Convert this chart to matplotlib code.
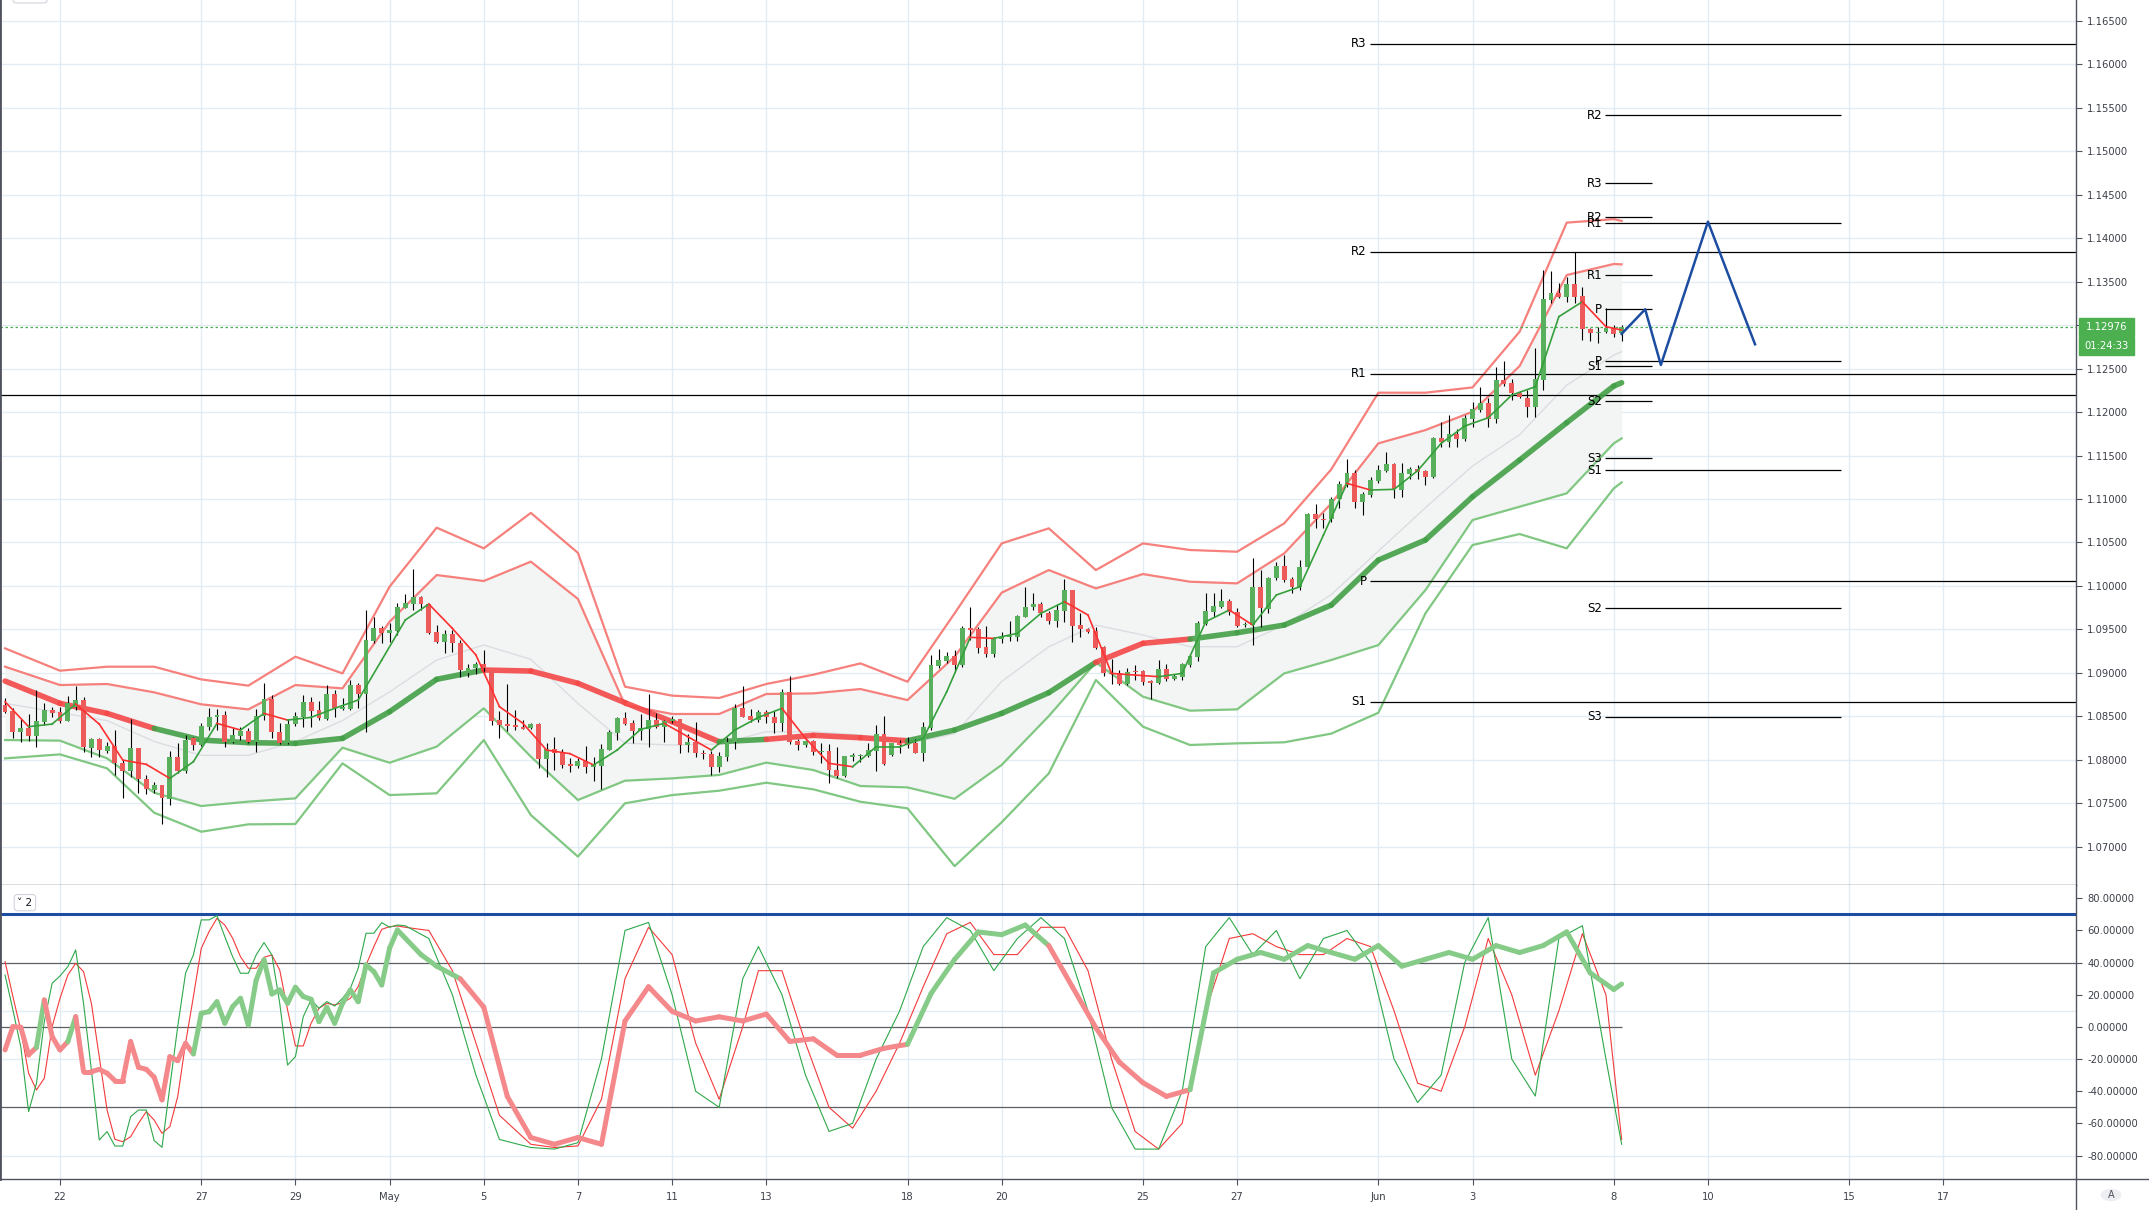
import matplotlib
matplotlib.use("Agg")
import matplotlib.pyplot as plt
from matplotlib.lines import Line2D
from matplotlib.patches import Circle, Rectangle, FancyBboxPatch

plt.rcParams['font.family'] = ['DejaVu Sans']

# 4h candles: x = candle number, 0 = 22 Apr 00:00, 6 candles per day
first_idx = -7
c_open = [1.08629, 1.08564, 1.08322, 1.08364, 1.08272, 1.08437, 1.08571, 1.08545, 1.08449, 1.08610,
          1.08687, 1.08138, 1.08238, 1.08100, 1.08157, 1.07965, 1.07873, 1.08134, 1.07774, 1.07651,
          1.07705, 1.07547, 1.08027, 1.07873, 1.08245, 1.08169, 1.08380, 1.08487, 1.08514, 1.08199,
          1.08276, 1.08334, 1.08199, 1.08502, 1.08698, 1.08322, 1.08196, 1.08410, 1.08495, 1.08664,
          1.08571, 1.08468, 1.08756, 1.08583, 1.08583, 1.08859, 1.08752, 1.09369, 1.09511, 1.09454,
          1.09484, 1.09749, 1.09791, 1.09868, 1.09788, 1.09465, 1.09358, 1.09446, 1.09339, 1.08994,
          1.09051, 1.09101, 1.09059, 1.08457, 1.08414, 1.08395, 1.08376, 1.08361, 1.08411, 1.08012,
          1.08123, 1.08073, 1.07950, 1.07927, 1.07985, 1.07920, 1.07927, 1.08111, 1.08311, 1.08483,
          1.08426, 1.08330, 1.08353, 1.08457, 1.08372, 1.08445, 1.08464, 1.08173, 1.08203, 1.08081,
          1.08065, 1.07912, 1.08035, 1.08200, 1.08598, 1.08503, 1.08457, 1.08549, 1.08495, 1.08418,
          1.08783, 1.08215, 1.08173, 1.08215, 1.08084, 1.08104, 1.07881, 1.07812, 1.08034, 1.08042,
          1.08046, 1.08103, 1.08295, 1.08053, 1.08195, 1.08195, 1.08195, 1.08080, 1.08360, 1.09082,
          1.09139, 1.09193, 1.09089, 1.09519, 1.09500, 1.09296, 1.09216, 1.09385, 1.09408, 1.09408,
          1.09645, 1.09753, 1.09791, 1.09691, 1.09599, 1.09714, 1.09952, 1.09549, 1.09500, 1.09480,
          1.09293, 1.09001, 1.08993, 1.08871, 1.09020, 1.09016, 1.08909, 1.08886, 1.09039, 1.08924,
          1.08955, 1.09089, 1.09185, 1.09561, 1.09699, 1.09760, 1.09826, 1.09703, 1.09549, 1.09549,
          1.09990, 1.09733, 1.10086, 1.10228, 1.10075, 1.09983, 1.10213, 1.10823, 1.10773, 1.10765,
          1.10996, 1.11160, 1.11295, 1.10969, 1.11045, 1.11210, 1.11325, 1.11398, 1.11103, 1.11287,
          1.11341, 1.11325, 1.11256, 1.11697, 1.11651, 1.11747, 1.11686, 1.11920, 1.12024, 1.12108,
          1.11916, 1.12369, 1.12330, 1.12215, 1.12166, 1.12062, 1.12369, 1.13289, 1.13366, 1.13328,
          1.13474, 1.13335, 1.12952, 1.12906, 1.12917, 1.12963, 1.12906]
c_high = [1.08706, 1.08591, 1.08464, 1.08522, 1.08802, 1.08648, 1.08610, 1.08602, 1.08733, 1.08848,
          1.08717, 1.08245, 1.08245, 1.08207, 1.08341, 1.07996, 1.08468, 1.08134, 1.07823, 1.07739,
          1.07705, 1.08103, 1.08196, 1.08284, 1.08265, 1.08426, 1.08598, 1.08579, 1.08564, 1.08380,
          1.08372, 1.08360, 1.08583, 1.08886, 1.08744, 1.08418, 1.08464, 1.08552, 1.08744, 1.08725,
          1.08675, 1.08859, 1.08802, 1.08706, 1.08917, 1.08878, 1.09722, 1.09638, 1.09542, 1.09569,
          1.09799, 1.09906, 1.10190, 1.09884, 1.09788, 1.09550, 1.09492, 1.09492, 1.09377, 1.09101,
          1.09128, 1.09262, 1.09059, 1.08564, 1.08871, 1.08572, 1.08457, 1.08426, 1.08426, 1.08188,
          1.08265, 1.08119, 1.08015, 1.08015, 1.08157, 1.08027, 1.08180, 1.08341, 1.08495, 1.08552,
          1.08457, 1.08526, 1.08756, 1.08541, 1.08457, 1.08503, 1.08464, 1.08295, 1.08437, 1.08111,
          1.08104, 1.08092, 1.08265, 1.08637, 1.08848, 1.08583, 1.08572, 1.08572, 1.08564, 1.08813,
          1.08963, 1.08234, 1.08226, 1.08226, 1.08188, 1.08180, 1.08149, 1.08042, 1.08073, 1.08065,
          1.08195, 1.08399, 1.08502, 1.08195, 1.08226, 1.08257, 1.08234, 1.08437, 1.09204, 1.09269,
          1.09243, 1.09262, 1.09538, 1.09753, 1.09523, 1.09538, 1.09408, 1.09469, 1.09596, 1.09665,
          1.09983, 1.09914, 1.09818, 1.09714, 1.09791, 1.10075, 1.09952, 1.09684, 1.09511, 1.09523,
          1.09308, 1.09154, 1.09032, 1.09051, 1.09089, 1.09032, 1.08917, 1.09147, 1.09101, 1.08986,
          1.09108, 1.09216, 1.09599, 1.09914, 1.09914, 1.09960, 1.09845, 1.09741, 1.09588, 1.10317,
          1.10182, 1.10106, 1.10278, 1.10355, 1.10106, 1.10297, 1.10834, 1.10942, 1.10834, 1.11026,
          1.11210, 1.11456, 1.11333, 1.11084, 1.11256, 1.11391, 1.11544, 1.11410, 1.11410, 1.11364,
          1.11391, 1.11333, 1.11717, 1.11889, 1.11966, 1.11801, 1.11966, 1.12119, 1.12284, 1.12158,
          1.12522, 1.12587, 1.12380, 1.12246, 1.12254, 1.12733, 1.13635, 1.13627, 1.13481, 1.13558,
          1.13846, 1.13443, 1.12963, 1.12983, 1.13194, 1.13002, 1.13002]
c_low = [1.08533, 1.08245, 1.08207, 1.08219, 1.08150, 1.08399, 1.08495, 1.08426, 1.08449, 1.08571,
         1.08092, 1.08027, 1.08034, 1.08073, 1.07823, 1.07555, 1.07804, 1.07612, 1.07605, 1.07612,
         1.07260, 1.07478, 1.07843, 1.07850, 1.08111, 1.08157, 1.08341, 1.08341, 1.08150, 1.08188,
         1.08226, 1.08188, 1.08084, 1.08456, 1.08245, 1.08180, 1.08180, 1.08387, 1.08380, 1.08380,
         1.08456, 1.08456, 1.08495, 1.08571, 1.08571, 1.08591, 1.08322, 1.09346, 1.09346, 1.09358,
         1.09435, 1.09741, 1.09722, 1.09722, 1.09446, 1.09347, 1.09231, 1.09243, 1.08948, 1.08948,
         1.08986, 1.08986, 1.08399, 1.08253, 1.08330, 1.08341, 1.08349, 1.08349, 1.07904, 1.07804,
         1.07881, 1.07900, 1.07862, 1.07900, 1.07850, 1.07758, 1.07659, 1.08111, 1.08226, 1.08399,
         1.08188, 1.08226, 1.08142, 1.08361, 1.08207, 1.08426, 1.08073, 1.08092, 1.08027, 1.08004,
         1.07824, 1.07862, 1.07989, 1.08119, 1.08487, 1.08437, 1.08437, 1.08426, 1.08303, 1.08334,
         1.08180, 1.08111, 1.08150, 1.08050, 1.07958, 1.07735, 1.07793, 1.07796, 1.07988, 1.07977,
         1.08034, 1.07873, 1.07938, 1.08042, 1.08073, 1.08130, 1.08073, 1.07988, 1.08341, 1.09051,
         1.09116, 1.09012, 1.09070, 1.09377, 1.09231, 1.09177, 1.09185, 1.09346, 1.09369, 1.09369,
         1.09638, 1.09722, 1.09645, 1.09561, 1.09523, 1.09588, 1.09358, 1.09415, 1.09461, 1.09269,
         1.08963, 1.08867, 1.08859, 1.08859, 1.08917, 1.08859, 1.08694, 1.08871, 1.08909, 1.08917,
         1.08917, 1.09070, 1.09139, 1.09549, 1.09645, 1.09741, 1.09665, 1.09523, 1.09530, 1.09319,
         1.09530, 1.09684, 1.10067, 1.10048, 1.09914, 1.09952, 1.10201, 1.10662, 1.10662, 1.10738,
         1.10892, 1.11141, 1.10892, 1.10815, 1.11026, 1.11180, 1.11314, 1.11007, 1.11026, 1.11226,
         1.11226, 1.11160, 1.11237, 1.11602, 1.11602, 1.11602, 1.11671, 1.11832, 1.12004, 1.11832,
         1.11878, 1.12300, 1.12139, 1.12158, 1.11947, 1.11947, 1.12254, 1.13259, 1.13309, 1.13270,
         1.13259, 1.12829, 1.12821, 1.12791, 1.12906, 1.12860, 1.12821]
c_close = [1.08552, 1.08322, 1.08364, 1.08272, 1.08445, 1.08571, 1.08541, 1.08445, 1.08648, 1.08687,
           1.08150, 1.08238, 1.08111, 1.08157, 1.07958, 1.07873, 1.08130, 1.07774, 1.07659, 1.07705,
           1.07555, 1.08027, 1.07873, 1.08226, 1.08169, 1.08387, 1.08495, 1.08514, 1.08207, 1.08284,
           1.08334, 1.08199, 1.08502, 1.08698, 1.08314, 1.08196, 1.08410, 1.08502, 1.08664, 1.08564,
           1.08476, 1.08756, 1.08591, 1.08602, 1.08859, 1.08752, 1.09377, 1.09511, 1.09454, 1.09492,
           1.09753, 1.09799, 1.09868, 1.09788, 1.09462, 1.09358, 1.09446, 1.09339, 1.09032, 1.09051,
           1.09101, 1.09051, 1.08449, 1.08399, 1.08391, 1.08372, 1.08357, 1.08411, 1.08012, 1.08123,
           1.08073, 1.07943, 1.07927, 1.07985, 1.07920, 1.07950, 1.08119, 1.08315, 1.08483, 1.08411,
           1.08330, 1.08361, 1.08457, 1.08372, 1.08449, 1.08464, 1.08173, 1.08203, 1.08073, 1.08061,
           1.07912, 1.08042, 1.08207, 1.08598, 1.08495, 1.08457, 1.08549, 1.08495, 1.08418, 1.08783,
           1.08203, 1.08173, 1.08215, 1.08084, 1.08104, 1.07881, 1.07812, 1.08042, 1.08053, 1.08053,
           1.08111, 1.08295, 1.07950, 1.08188, 1.08169, 1.08169, 1.08080, 1.08372, 1.09089, 1.09147,
           1.09193, 1.09089, 1.09519, 1.09496, 1.09289, 1.09216, 1.09396, 1.09415, 1.09423, 1.09653,
           1.09753, 1.09791, 1.09684, 1.09599, 1.09722, 1.09952, 1.09538, 1.09500, 1.09469, 1.09289,
           1.08993, 1.08982, 1.08871, 1.09012, 1.09005, 1.08897, 1.08886, 1.09039, 1.08924, 1.08963,
           1.09101, 1.09197, 1.09569, 1.09711, 1.09768, 1.09826, 1.09703, 1.09538, 1.09565, 1.09990,
           1.09741, 1.10086, 1.10228, 1.10067, 1.09983, 1.10213, 1.10823, 1.10765, 1.10758, 1.10996,
           1.11172, 1.11295, 1.10969, 1.11057, 1.11218, 1.11333, 1.11398, 1.11111, 1.11295, 1.11341,
           1.11314, 1.11256, 1.11705, 1.11651, 1.11747, 1.11686, 1.11928, 1.12031, 1.12108, 1.11916,
           1.12369, 1.12323, 1.12215, 1.12177, 1.12062, 1.12376, 1.13301, 1.13366, 1.13328, 1.13474,
           1.13328, 1.12952, 1.12906, 1.12921, 1.12971, 1.12898, 1.12976]

# bands / moving averages read once a day
band_idx = [-7] + list(range(0, 199, 6)) + [199]
band_uo = [1.09281, 1.09024, 1.09070, 1.09070, 1.08924, 1.08852, 1.09185, 1.08993, 1.09991, 1.10670,
           1.10432, 1.10840, 1.10380, 1.08840, 1.08737, 1.08710, 1.08871, 1.08978, 1.09108, 1.08897,
           1.09684, 1.10489, 1.10662, 1.10182, 1.10489, 1.10413, 1.10393, 1.10719, 1.11341, 1.12223,
           1.12223, 1.12284, 1.12925, 1.14180, 1.14220, 1.14200]
band_ui = [1.09070, 1.08859, 1.08871, 1.08775, 1.08637, 1.08579, 1.08859, 1.08821, 1.09588, 1.10125,
           1.10056, 1.10279, 1.09850, 1.08629, 1.08526, 1.08526, 1.08756, 1.08763, 1.08813, 1.08686,
           1.09185, 1.09922, 1.10182, 1.09971, 1.10136, 1.10048, 1.10029, 1.10374, 1.10949, 1.11640,
           1.11793, 1.12004, 1.12530, 1.13577, 1.13704, 1.13700]
band_mid = [1.08648, 1.08541, 1.08450, 1.08210, 1.08050, 1.08050, 1.08210, 1.08450, 1.08780, 1.09147,
            1.09320, 1.09155, 1.08648, 1.08190, 1.08169, 1.08180, 1.08322, 1.08320, 1.08284, 1.08180,
            1.08300, 1.08900, 1.09300, 1.09549, 1.09434, 1.09300, 1.09300, 1.09550, 1.09900, 1.10400,
            1.10900, 1.11380, 1.11740, 1.12310, 1.12656, 1.12695]
band_li = [1.08226, 1.08219, 1.08015, 1.07620, 1.07467, 1.07517, 1.07555, 1.08138, 1.07965, 1.08150,
           1.08591, 1.08035, 1.07536, 1.07758, 1.07785, 1.07824, 1.07966, 1.07881, 1.07697, 1.07681,
           1.07550, 1.07940, 1.08502, 1.09120, 1.08725, 1.08564, 1.08579, 1.08993, 1.09147, 1.09319,
           1.09952, 1.10758, 1.10911, 1.11065, 1.11640, 1.11697]
band_lo = [1.08015, 1.08061, 1.07900, 1.07390, 1.07171, 1.07256, 1.07260, 1.07958, 1.07593, 1.07613,
           1.08226, 1.07363, 1.06885, 1.07498, 1.07593, 1.07643, 1.07735, 1.07659, 1.07516, 1.07440,
           1.06775, 1.07280, 1.07842, 1.08917, 1.08380, 1.08169, 1.08188, 1.08200, 1.08300, 1.08540,
           1.09684, 1.10470, 1.10597, 1.10432, 1.11122, 1.11191]
trend_line = [1.08905, 1.08648, 1.08533, 1.08360, 1.08226, 1.08196, 1.08188, 1.08245, 1.08552, 1.08925,
              1.09032, 1.09020, 1.08879, 1.08656, 1.08437, 1.08207, 1.08234, 1.08280, 1.08253, 1.08218,
              1.08341, 1.08533, 1.08771, 1.09120, 1.09339, 1.09388, 1.09461, 1.09549, 1.09779, 1.10297,
              1.10528, 1.11026, 1.11448, 1.11878, 1.12300, 1.12338]
trend_up = [0, 0, 0, 0, 1, 1, 1, 1, 1, 1, 1, 0, 0, 0, 0, 0, 1, 0, 0, 0,
            1, 1, 1, 1, 0, 0, 1, 1, 1, 1, 1, 1, 1, 1, 1, 1]

fast_idx = list(range(-7, 198, 3)) + [199]
fast_line = [1.08667, 1.08380, 1.08410, 1.08640, 1.08410, 1.07996, 1.07946, 1.07785, 1.07977, 1.08418,
             1.08341, 1.08533, 1.08456, 1.08487, 1.08591, 1.08687, 1.09147, 1.09607, 1.09791, 1.09511,
             1.09205, 1.08610, 1.08418, 1.08111, 1.08069, 1.07939, 1.08111, 1.08349, 1.08418, 1.08265,
             1.08111, 1.08341, 1.08487, 1.08591, 1.08246, 1.07958, 1.07919, 1.08149, 1.08149, 1.08245,
             1.08782, 1.09408, 1.09396, 1.09454, 1.09684, 1.09818, 1.09665, 1.08993, 1.08974, 1.08955,
             1.08993, 1.09588, 1.09722, 1.09549, 1.09895, 1.09990, 1.10585, 1.11180, 1.11103, 1.11111,
             1.11325, 1.11640, 1.11839, 1.11935, 1.12196, 1.12292, 1.13098, 1.13270, 1.12983, 1.12944]

# pivot levels
piv_a_names = ['R3', 'R2', 'R1', 'P', 'S1']
piv_a = [1.16236, 1.13846, 1.12442, 1.10052, 1.08667]
piv_b_names = ['R3', 'R2', 'R1', 'P', 'S1', 'S2', 'S3']
piv_b = [1.14632, 1.14241, 1.13574, 1.13182, 1.12527, 1.12124, 1.11468]
piv_c_names = ['R2', 'R1', 'P', 'S1', 'S2', 'S3']
piv_c = [1.15417, 1.14172, 1.12584, 1.11330, 1.09740, 1.08494]
level_line = 1.12202
last_price = 1.12976
countdown = '01:24:33'

proj_idx = [199, 202, 204, 210, 216]
proj_price = [1.12900, 1.13183, 1.12542, 1.14191, 1.12780]

# oscillator
osc_thick_idx = list(range(-7, 44)) + [46, 48, 51, 54, 57, 60, 63, 66, 69, 72, 75, 78, 81, 84, 87, 90, 93,
                                       96, 99, 102, 105, 108, 111, 114, 117, 120, 123, 126, 129, 132, 135,
                                       138, 141, 144, 147, 150, 153, 156, 159, 162, 165, 168, 171, 174, 177,
                                       180, 183, 186, 189, 192, 195, 198, 199]
osc_thick = [-14.3, 0.2, -0.2, -17.4, -12.7, 16.8, -6.0, -14.3, -9.1, 6.4, -27.8, -27.8, -26.4, -28.8,
             -33.4, -33.4, -9.1, -25.1, -26.4, -31.3, -45.4, -18.5, -21.0, -10.2, -16.8, 8.5, 9.5, 15.7,
             2.3, 12.6, 17.8, 1.2, 29.2, 41.7, 20.5, 23.0, 14.7, 24.7, 18.9, 17.2, 3.3, 12.2, 2.3, 14.7,
             23.0, 15.7, 38.6, 34.4, 26.1, 49.0, 60.3,
             45, 37.8, 30, 12.3, -43.2, -68.8, -73, -68.8, -73, 3.7, 25, 9.7, 3.7, 6.3, 3.7, 8, -9, -7.4,
             -17.6, -17.6, -13.3, -10.8, 20.8, 42, 59.1, 57.4, 63.4, 50.6, 25, -0.5, -21.9, -34.7, -43.2,
             -39, 33.6, 42.1, 46.3, 42.1, 50.6, 46.3, 42.1, 50.6, 37.8, 42.1, 46.3, 42.1, 50.6, 46.3, 50.6,
             59.1, 33.6, 23.3, 26.7]
osc_thick_up = [0, 0, 0, 0, 0, 1, 0, 0, 0, 1, 0, 0, 0, 0, 0, 0, 0, 0, 0, 0, 0, 0, 0, 0, 0, 1,
                1, 1, 1, 1, 1, 1, 1, 1, 1, 1, 1, 1, 1, 1, 1, 1, 1, 1, 1, 1, 1, 1, 1, 1, 1,
                1, 1, 1, 0, 0, 0, 0, 0, 0, 0, 0, 0, 0, 0, 0, 0, 0, 0, 0, 0, 0, 0, 1, 1, 1, 1, 1, 1, 0,
                0, 0, 0, 0, 0, 1, 1, 1, 1, 1, 1, 1, 1, 1, 1, 1, 1, 1, 1, 1, 1, 1, 1, 1]
osc_thin_idx = list(range(-7, 44)) + [44, 47, 50, 53, 56, 60, 63, 66, 69, 72, 75, 78, 81, 84, 87, 89, 92,
                                      95, 98, 101, 104, 107, 110, 113, 116, 119, 122, 125, 128, 131, 134,
                                      137, 140, 143, 146, 149, 152, 155, 158, 161, 164, 167, 170, 173, 176,
                                      179, 182, 185, 188, 191, 194, 197, 199]
osc_k = [32.3, 10.6, -12.3, -52.7, -35.1, 3.3, 27.2, 31.7, 37.5, 47.9, 14.7, -26.8, -70.3, -65.1, -74.1,
         -74.1, -55.8, -51.7, -51.7, -70.7, -74.9, -37.1, 0.2, 33.4, 44.8, 66.6, 66.6, 69.3, 56.2, 43.7,
         33.4, 33.4, 44.8, 52.5, 44.8, 14.7, -23.7, -18.5, 6.4, 16.8, 11.6, 15.8, 13.0, 17.8, 24.0, 36.5,
         58.3, 58.3, 64.9, 62.0, 63.4,
         63, 55, 20, -30, -70, -75, -76, -72, -20, 60, 65, 20, -40, -50, 30, 50, 20, -30, -65, -60, -20,
         10, 50, 68, 60, 35, 55, 68, 55, 10, -50, -76, -76, -40, 50, 68, 45, 60, 30, 55, 60, 40, -20, -47,
         -30, 40, 68, -20, -43, 55, 63, -20, -73]
osc_d = [40.6, 18.9, -1.9, -28.8, -39.2, -31.9, 0.2, 17.8, 32.3, 39.6, 34.4, 14.7, -18.5, -51.7, -69.9,
         -71.4, -68.3, -60.0, -52.7, -57.9, -66.2, -62.0, -43.4, -10.2, 18.9, 48.9, 59.3, 67.6, 63.4, 55.2,
         43.7, 36.5, 36.5, 43.3, 44.8, 35.4, 10.6, -11.8, -11.8, 2.3, 11.6, 14.7, 13.7, 15.1, 17.8, 25.1,
         38.6, 50.0, 60.7, 62.4, 62.8,
         62, 60, 35, -10, -55, -73, -75, -74, -45, 30, 62, 45, -10, -45, 0, 35, 35, -10, -50, -63, -40,
         -10, 25, 58, 65, 45, 45, 62, 62, 35, -20, -65, -76, -60, 10, 55, 58, 50, 45, 45, 55, 50, 10, -35,
         -40, 0, 55, 20, -30, 10, 58, 20, -70]
osc_levels = [40, -50]
osc_signal = 70

tick_idx = [0, 18, 30, 42, 54, 66, 78, 90, 108, 120, 138, 150, 168, 180, 198, 210, 228, 240]
tick_lab = ['22', '27', '29', 'May', '5', '7', '11', '13', '18', '20', '25', '27', 'Jun', '3', '8',
            '10', '15', '17']

green = '#58b05c'
red = '#ec5a5a'
axis_col = '#50535e'
grid_col = '#e3ecf3'
px = 0.00011507  # price per pixel in the main pane

fig = plt.figure(figsize=(21.49, 12.10), dpi=100)
ax = fig.add_axes([0, 325 / 1210, 2076 / 2149, 885 / 1210])
ax2 = fig.add_axes([0, 31 / 1210, 2076 / 2149, 294 / 1210], sharex=ax)
x_left, x_right = -7.645, 256.9

# ---- main pane
ax.fill_between(band_idx, band_ui, band_li, color='#f3f4f4', lw=0, zorder=1)
ax.plot(band_idx, band_mid, color='#dcdde2', lw=1, zorder=1.5)
ax.plot(band_idx, band_uo, color='#f5807c', lw=1.6, zorder=2)
ax.plot(band_idx, band_ui, color='#f5807c', lw=1.6, zorder=2)
ax.plot(band_idx, band_li, color='#80c782', lw=1.6, zorder=2)
ax.plot(band_idx, band_lo, color='#80c782', lw=1.6, zorder=2)
for k in range(len(band_idx) - 1):
    col = '#43a047' if trend_up[k + 1] else '#f54848'
    ax.plot(band_idx[k:k + 2], trend_line[k:k + 2], color=col, lw=4, alpha=0.9,
            solid_capstyle='round', zorder=2.5)

for lv in piv_a:
    ax.hlines(lv, 166.9, x_right, color='black', lw=0.9, zorder=2.2)
for name, lv in zip(piv_a_names, piv_a):
    ax.text(166.5, lv, name, ha='right', va='center', fontsize=8.5, color='black', zorder=7)
for lv in piv_b:
    ax.hlines(lv, 196.9, 202.9, color='black', lw=0.9, zorder=2.2)
for lv in piv_c:
    ax.hlines(lv, 196.9, 227.0, color='black', lw=0.9, zorder=2.2)
for name, lv in list(zip(piv_b_names, piv_b)) + list(zip(piv_c_names, piv_c)):
    ax.text(196.5, lv, name, ha='right', va='center', fontsize=8.5, color='black', zorder=7)
ax.axhline(level_line, color='black', lw=0.9, zorder=2.2)

xs = [first_idx + k for k in range(len(c_close))]
ax.vlines(xs, c_low, c_high, color='black', lw=0.8, zorder=3)
bottoms = [min(o, c) for o, c in zip(c_open, c_close)]
heights = [max(abs(c - o), 0.00004) for o, c in zip(c_open, c_close)]
colors = [green if c >= o else red for o, c in zip(c_open, c_close)]
ax.bar(xs, heights, bottom=bottoms, width=0.62, color=colors, lw=0, zorder=4)

for k in range(len(fast_idx) - 1):
    col = '#35a03b' if fast_line[k + 1] >= fast_line[k] else '#ff3030'
    ax.plot(fast_idx[k:k + 2], fast_line[k:k + 2], color=col, lw=1.2, zorder=5)

ax.axhline(last_price, color='#4caf50', lw=0.9, ls=(0, (2, 2)), zorder=2)
ax.plot(proj_idx, proj_price, color='#1c4da1', lw=1.8, zorder=6)

ax.set_ylim(1.06558, 1.16742)
yt = [1.07 + 0.005 * k for k in range(20)]
ax.set_yticks(yt)
# the 1.13000 label sits under the last-price box
ax.set_yticklabels(['' if abs(v - 1.13) < 1e-9 else '%.5f' % v for v in yt])

# last price and countdown boxes on the price scale
ytr = ax.get_yaxis_transform()
for cy, txt in [(last_price, '1.12976'), (last_price - 19 * px, countdown)]:
    ax.add_patch(Rectangle((1 + 3 / 2076, cy - 9 * px), 55 / 2076, 18 * px, transform=ytr,
                           color='#4caf50', clip_on=False, zorder=9))
    ax.text(1 + 30.5 / 2076, cy, txt, transform=ytr, ha='center', va='center', color='white',
            fontsize=7.2, zorder=10, clip_on=False)

# ---- oscillator pane
for lv in [10, -20, -80]:
    ax2.axhline(lv, color=grid_col, lw=1, zorder=0)
ax2.axhline(osc_signal, color='#1c4da1', lw=2.2, zorder=2)
for lv in osc_levels:
    ax2.axhline(lv, color='#5d5f66', lw=0.9, zorder=2)
ax2.hlines(0, x_left, 199, color='#5d5f66', lw=0.9, zorder=2)
ax2.plot(osc_thin_idx, osc_d, color='#f43a3a', lw=0.8, zorder=3)
ax2.plot(osc_thin_idx, osc_k, color='#2ea84a', lw=0.8, zorder=3)
for k in range(len(osc_thick_idx) - 1):
    col = '#86cc88' if osc_thick_up[k + 1] else '#f4888a'
    ax2.plot(osc_thick_idx[k:k + 2], osc_thick[k:k + 2], color=col, lw=3.6,
             solid_capstyle='round', zorder=4)
ax2.set_ylim(-94.6, 88.3)
ot = list(range(-80, 81, 20))
ax2.set_yticks(ot)
ax2.set_yticklabels(['%.5f' % v for v in ot])
ax2.text(0.012, 0.94, '˅ 2', transform=ax2.transAxes, ha='center', va='center', fontsize=7.5,
         color='#131722', bbox=dict(boxstyle='round,pad=0.3', fc='white', ec='#d1d4dc', lw=0.8))

for a in (ax, ax2):
    a.set_xlim(x_left, x_right)
    a.set_xticks(tick_idx)
    a.grid(axis='x', color=grid_col, lw=1, zorder=0)
    a.yaxis.tick_right()
    a.tick_params(axis='y', direction='out', length=4, color=axis_col, labelsize=7.2,
                  labelcolor='#3d404a', pad=4)
    a.spines['top'].set_visible(False)
    for s in ['left', 'right', 'bottom']:
        a.spines[s].set_color(axis_col)
        a.spines[s].set_linewidth(1)
    a.set_axisbelow(True)
ax.spines['left'].set_linewidth(2)
ax2.spines['left'].set_linewidth(2)
ax.grid(axis='y', color=grid_col, lw=1, zorder=0)
ax.tick_params(axis='x', length=0, labelbottom=False)
ax2.set_xticklabels(tick_lab)
ax2.tick_params(axis='x', direction='out', length=4, color=axis_col, labelsize=7.2,
                labelcolor='#3d404a', pad=5)

# collapsed legend button cut off at the top-left corner
fig.add_artist(FancyBboxPatch((13 / 2149, 1 - 3 / 1210), 34 / 2149, 12 / 1210,
                              boxstyle='round,pad=0,rounding_size=0.002', transform=fig.transFigure,
                              fc='white', ec='#d1d4dc', lw=0.8))
fig.add_artist(Line2D([2076 / 2149, 2076 / 2149], [0, 31 / 1210], color=axis_col, lw=1))
fig.add_artist(Line2D([2076 / 2149, 1], [31 / 1210, 31 / 1210], color=axis_col, lw=1))
fig.add_artist(Circle((2111 / 2149, 15 / 1210), 0.0045, transform=fig.transFigure, color='#eceef2'))
fig.text(2111 / 2149, 15 / 1210, 'A', ha='center', va='center', fontsize=7, color='#50535e')

fig.savefig('out.png', dpi=100, facecolor='white')
